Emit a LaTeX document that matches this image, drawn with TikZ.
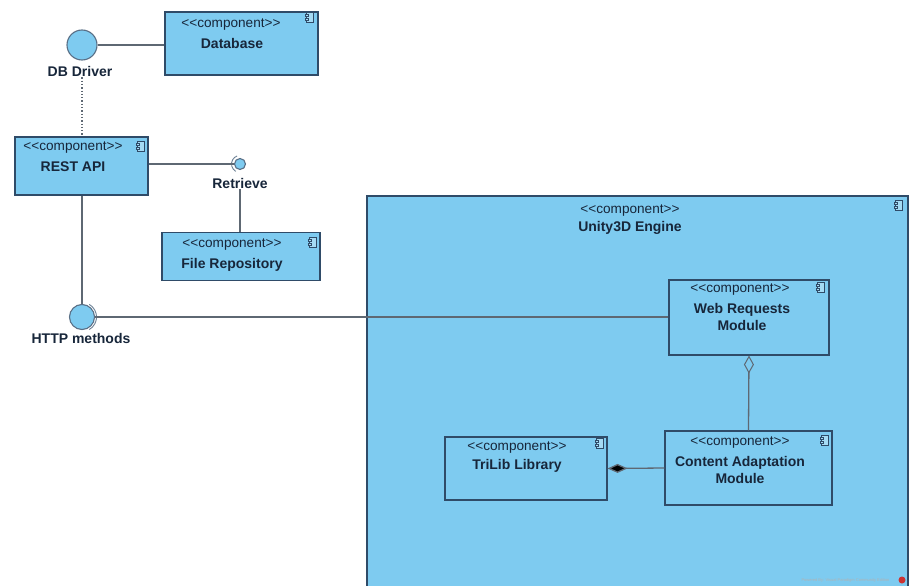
\documentclass[tikz,border=0pt]{standalone}
\usepackage{fontspec}
\setmainfont{Liberation Sans}
\usetikzlibrary{arrows.meta}
\definecolor{cfill}{HTML}{7ECBF0}
\definecolor{cborder}{HTML}{2F4B68}
\definecolor{ctext}{HTML}{17263A}
\definecolor{cline}{HTML}{5E6873}
\newcommand\compst{{<}{<}component{>}{>}}
\tikzset{
  x=1pt, y=-1pt,
  comp/.style={draw=cborder, fill=cfill, line width=1.1pt, inner sep=0pt},
  stereo/.style={text=ctext, font=\fontsize{13.6}{16}\selectfont, inner sep=0pt},
  cname/.style={text=ctext, font=\fontsize{14}{17.5}\selectfont\bfseries, inner sep=0pt, align=center},
  iface/.style={circle, draw=cborder!80, fill=cfill, line width=1.1pt, inner sep=0pt},
  lbl/.style={text=ctext, font=\fontsize{14}{16}\selectfont\bfseries, inner sep=1pt},
  conn/.style={draw=cline, line width=1.3pt},
  cicon/.pic={
    \draw[cborder, line width=0.7pt, fill=cfill!70!white] (-3.5,-5) rectangle (3.5,5);
    \draw[cborder, line width=0.6pt, fill=cfill!70!white] (-5,-3) rectangle (-2,-1);
    \draw[cborder, line width=0.6pt, fill=cfill!70!white] (-5,1) rectangle (-2,3);
  }
}
\begin{document}
\begin{tikzpicture}
\useasboundingbox[fill=white] (0,0) rectangle (914,586);

% Unity3D Engine container
\fill[cfill] (367,196) rectangle (908,586);
\draw[cborder, line width=1.2pt] (367,586) -- (367,196) -- (908,196) -- (908,586);
\node[stereo] (unityst) at (630,211) {\compst};
\node[cname] (unity) at (630,228) {Unity3D Engine};
\pic at (899,205) {cicon};

% Boxes
\node[comp, minimum width=153, minimum height=63] (db) at (241.5,43.5) {};
\node[stereo] at (231,25) {\compst};
\node[cname] at (232,43) {Database};
\pic at (310,17) {cicon};

\node[comp, minimum width=133, minimum height=58] (rest) at (81.5,166) {};
\node[stereo] at (73,148) {\compst};
\node[cname] at (73,167) {REST API};
\pic at (141,146) {cicon};

\node[comp, minimum width=158, minimum height=48] (file) at (241,256.5) {};
\node[stereo] at (232,245) {\compst};
\node[cname] at (232,265) {File Repository};
\pic at (313,242) {cicon};

\node[comp, minimum width=160, minimum height=75] (web) at (749,317.5) {};
\node[stereo] at (740,290) {\compst};
\node[cname] at (742,317) {Web Requests\\Module};
\pic at (821,287) {cicon};

\node[comp, minimum width=167, minimum height=74] (cont) at (748.5,468) {};
\node[stereo] at (740,443) {\compst};
\node[cname] at (740,470) {Content Adaptation\\Module};
\pic at (825,440) {cicon};

\node[comp, minimum width=162, minimum height=63] (tri) at (526,468.5) {};
\node[stereo] at (517,448) {\compst};
\node[cname] at (517,466) {TriLib Library};
\pic at (600,443) {cicon};

% Interfaces
\node[iface, minimum size=30] (dbdrv) at (82,45) {};
\node[lbl] (dbdrvl) at (80,71) {DB Driver};

\node[iface, minimum size=11] (retr) at (240,164) {};
\draw[cborder!70, line width=0.9pt] (240,164) ++(120:8.5) arc (120:250:8.5);
\node[lbl] (retrl) at (240,183) {Retrieve};

\node[iface, minimum size=25] (http) at (82,317) {};
\draw[cborder!70, line width=0.9pt] (82,317) ++(-60:14.5) arc (-60:60:14.5);
\node[lbl] (httpl) at (81,338) {HTTP methods};

% Connectors
\draw[conn] (dbdrv) -- (db.west |- dbdrv);
\draw[conn, dotted, line width=1.2pt] (dbdrvl.south -| dbdrv) -- (rest.north -| dbdrv);
\draw[conn] (rest.east |- retr) -- (retr);
\draw[conn] (retrl.south) -- (file.north -| retrl);
\draw[conn] (rest.south -| http) -- (http);
\draw[conn] (http) -- (web.west |- http);
\draw[conn, {Diamond[open, length=18pt, width=10pt, line width=1pt]}-] (web.south) -- (cont.north);
\draw[conn, {Diamond[fill=black, length=20pt, width=9pt]}-] (tri.east) -- (cont.west);

% watermark
\node[text=gray!60, font=\fontsize{4}{5}\selectfont, anchor=east] (wm) at (893,580) {Powered By: Visual Paradigm Community Edition};
\fill[red!60!gray] (902,580) circle (3.5);
\end{tikzpicture}
\end{document}
